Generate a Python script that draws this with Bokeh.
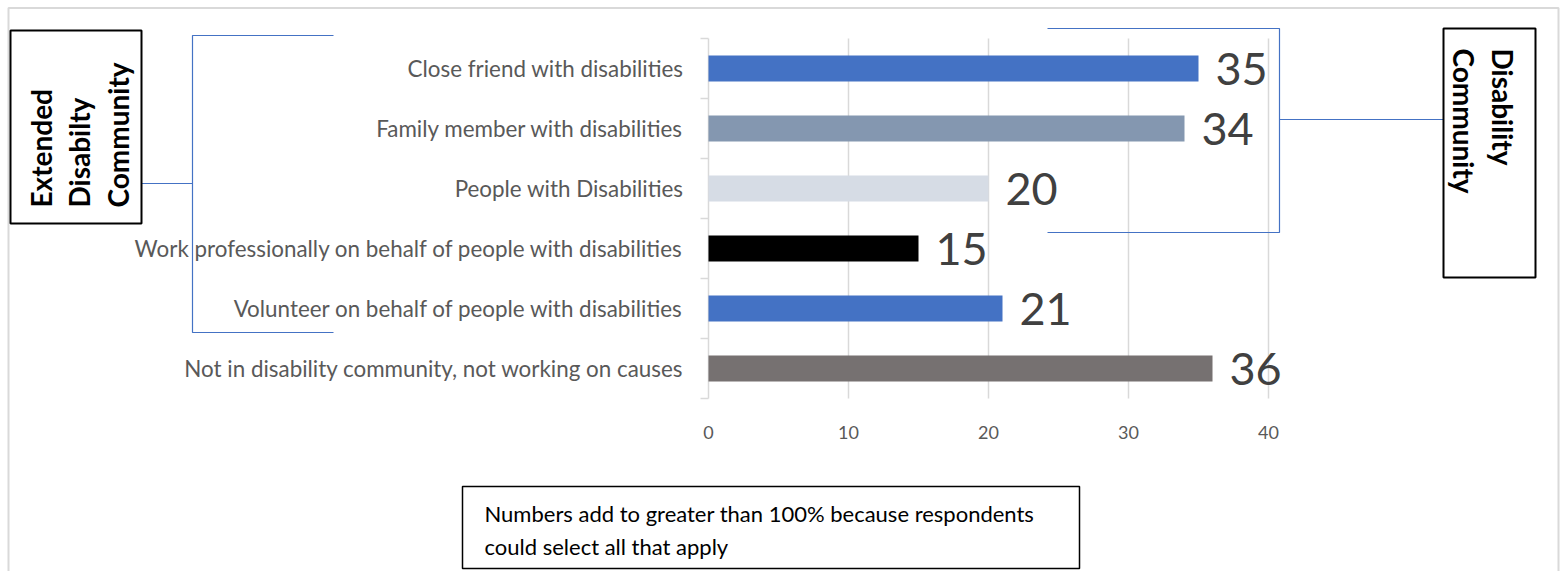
import math
from bokeh.plotting import figure
from bokeh.models import Range1d
from bokeh.embed import file_html
from bokeh.resources import INLINE
from bokeh.core.properties import value

# ---------------- data ----------------
categories = [
    "Close friend with disabilities",
    "Family member with disabilities",
    "People with Disabilities",
    "Work professionally on behalf of people with disabilities",
    "Volunteer on behalf of people with disabilities",
    "Not in disability community, not working on causes",
]
counts = [35, 34, 20, 15, 21, 36]
bar_colors = ["#4472C4", "#8497B0", "#D6DCE5", "#000000", "#4472C4", "#767171"]
x_ticks = [0, 10, 20, 30, 40]
left_group_lines = ["Extended", "Disabilty", "Community"]
right_group_lines = ["Disability", "Community"]
note_lines = ["Numbers add to greater than 100% because respondents",
              "could select all that apply"]

# ---------------- layout (pixels) ----------------
W, H = 1564, 571
ZERO_PX = 708          # page x of value 0
PX_PER_UNIT = 14.0     # horizontal scale
ROW_PX = 60.0          # vertical pixels per category row


def X(page_x):
    return (page_x - ZERO_PX) / PX_PER_UNIT


def Y(page_y):
    return (page_y - 8) / ROW_PX


rows = [i + 1 for i in range(len(categories))]

p = figure(width=W, height=H, output_backend="svg", toolbar_location=None,
           x_range=Range1d(X(0), X(W)), y_range=Range1d(Y(H), Y(0)),
           x_axis_location=None, y_axis_location=None,
           min_border_left=0, min_border_right=0, min_border_top=0,
           min_border_bottom=0)
p.xgrid.visible = False
p.ygrid.visible = False
p.outline_line_color = None
p.background_fill_color = "white"
p.border_fill_color = "white"

GRID = "#D9D9D9"
top_u, bot_u = rows[0] - 0.5, rows[-1] + 0.5

# outer light border
p.quad(left=[X(8)], right=[X(1558)], top=[Y(7.5)], bottom=[Y(620)],
       fill_color=None, line_color=GRID, line_width=2)

# gridlines (and value axis at 0)
p.segment(x0=x_ticks, x1=x_ticks, y0=[top_u] * len(x_ticks), y1=[bot_u] * len(x_ticks),
          line_color=GRID, line_width=1.5)
# category tick marks at row boundaries
bounds = [r - 0.5 for r in rows] + [bot_u]
p.segment(x0=[-8 / PX_PER_UNIT] * len(bounds), x1=[0] * len(bounds), y0=bounds, y1=bounds,
          line_color=GRID, line_width=1.5)

# value-axis tick labels
p.text(x=x_ticks, y=[Y(432)] * len(x_ticks), text=[str(t) for t in x_ticks],
       text_align="center", text_baseline="middle",
       text_font=value("Lato"), text_font_size="18px", text_color="#595959")

# bars
p.hbar(y=rows, left=0, right=counts, height=26 / ROW_PX, fill_color=bar_colors,
       line_color=None)

# category labels
p.text(x=[0] * len(rows), y=rows, text=categories, x_offset=-25,
       text_align="right", text_baseline="middle",
       text_font=value("Lato"), text_font_size="22.4px", text_color="#595959")

# value labels
p.text(x=counts, y=rows, text=[str(v) for v in counts], x_offset=17,
       text_align="left", text_baseline="middle",
       text_font=value("Lato"), text_font_size="45px", text_color="#404040")

BLUE = "#4472C4"
# left bracket
p.line(x=[X(333), X(192), X(192), X(333)], y=[Y(35), Y(35), Y(332), Y(332)],
       line_color=BLUE, line_width=1.2)
p.line(x=[X(141), X(192)], y=[Y(183), Y(183)], line_color=BLUE, line_width=1.2)
# right bracket
p.line(x=[X(1047), X(1279), X(1279), X(1047)], y=[Y(28), Y(28), Y(232), Y(232)],
       line_color=BLUE, line_width=1.2)
p.line(x=[X(1279), X(1443)], y=[Y(119), Y(119)], line_color=BLUE, line_width=1.2)

# group boxes + note box
p.quad(left=[X(10), X(1443), X(462)], right=[X(141), X(1535), X(1079)],
       top=[Y(30), Y(28), Y(486)], bottom=[Y(223), Y(277), Y(568)],
       fill_color="white", line_color="black", line_width=[2, 2, 1.5])

# rotated group texts
left_cols = [40, 78, 117]
p.text(x=[X(c) for c in left_cols], y=[Y(207)] * 3, text=left_group_lines,
       angle=math.pi / 2, text_align="left", text_baseline="middle",
       text_font=value("Lato"), text_font_style="bold", text_font_size="28px",
       text_color="black")
right_cols = [1502, 1463]
p.text(x=[X(c) for c in right_cols], y=[Y(48)] * 2, text=right_group_lines,
       angle=-math.pi / 2, text_align="left", text_baseline="middle",
       text_font=value("Lato"), text_font_style="bold", text_font_size="28px",
       text_color="black")

# note text
p.text(x=[X(484)] * 2, y=[Y(513), Y(546)], text=note_lines,
       text_align="left", text_baseline="middle",
       text_font=value("Lato"), text_font_size="22px", text_color="black")

open("out.html", "w").write(file_html(p, INLINE))
